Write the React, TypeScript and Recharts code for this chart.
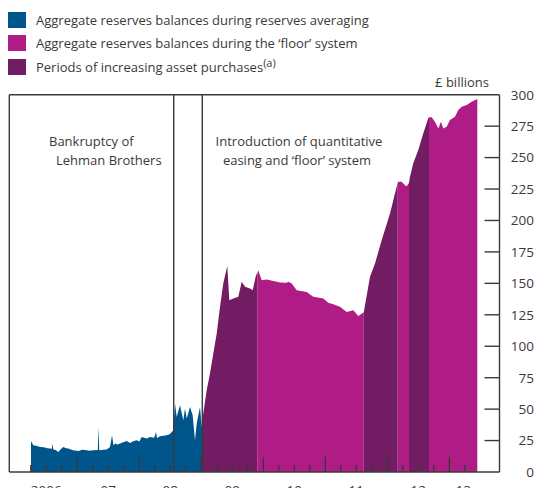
import React from 'react';
import { ComposedChart, Area, XAxis, YAxis, ReferenceLine } from 'recharts';

// ---------- data (decimal year, £ billions) ----------
const reservesAveraging: [number, number][] = [
  [2006.253, 24.7], [2006.29, 21.2], [2006.34, 20.8], [2006.398, 19.9], [2006.46, 19.6],
  [2006.52, 18.9], [2006.56, 18.6], [2006.59, 18.4], [2006.597, 22.6], [2006.613, 17.8],
  [2006.65, 17.4], [2006.694, 15.9], [2006.74, 18.5], [2006.774, 19.9], [2006.82, 18.9],
  [2006.855, 18.6], [2006.93, 17.2], [2007.016, 16.7], [2007.08, 17.6], [2007.152, 17.3],
  [2007.2, 16.9], [2007.258, 17.3], [2007.331, 17.5], [2007.339, 35.8], [2007.355, 17.3],
  [2007.42, 17.6], [2007.474, 17.8], [2007.527, 19.9], [2007.56, 29.2], [2007.584, 21.0],
  [2007.608, 22.6], [2007.65, 21.8], [2007.689, 22.6], [2007.74, 23.6], [2007.797, 24.7],
  [2007.85, 23.1], [2007.9, 24.5], [2007.958, 25.2], [2008.0, 24.3], [2008.039, 27.9],
  [2008.119, 26.6], [2008.173, 27.9], [2008.24, 27.3], [2008.269, 31.8], [2008.285, 27.0],
  [2008.334, 28.4], [2008.39, 28.9], [2008.442, 29.2], [2008.49, 30.0], [2008.523, 31.8],
  [2008.548, 33.0], [2008.576, 54.4], [2008.603, 43.8], [2008.656, 53.1], [2008.71, 41.1],
  [2008.737, 50.4], [2008.765, 42.5], [2008.818, 51.7], [2008.861, 45.1], [2008.898, 25.2],
  [2008.926, 38.5], [2008.979, 51.7], [2009.006, 35.8], [2009.016, 40.0],
];

const floorSystem: [number, number][] = [
  [2009.903, 158.0], [2009.919, 160.5], [2009.974, 152.5], [2010.055, 153.1], [2010.216, 151.2],
  [2010.269, 150.7], [2010.377, 150.4], [2010.403, 151.2], [2010.458, 149.9], [2010.539, 144.6],
  [2010.7, 143.2], [2010.806, 139.3], [2010.968, 138.0], [2011.048, 134.5], [2011.129, 133.4],
  [2011.237, 131.3], [2011.345, 127.3], [2011.452, 128.7], [2011.532, 124.1], [2011.621, 127.0],
  [2012.168, 230.0], [2012.177, 230.8], [2012.232, 230.8], [2012.285, 228.1], [2012.313, 227.3],
  [2012.35, 230.0],
  [2012.673, 282.0], [2012.716, 282.0], [2012.769, 278.5], [2012.823, 273.2], [2012.866, 278.5],
  [2012.903, 273.2], [2012.958, 274.5], [2013.011, 279.9], [2013.092, 282.5], [2013.145, 287.8],
  [2013.2, 290.4], [2013.281, 291.8], [2013.361, 294.4], [2013.442, 296.3], [2013.452, 296.5],
];

const assetPurchases: [number, number][] = [
  [2009.016, 40.0], [2009.032, 46.5], [2009.087, 65.0], [2009.14, 78.3], [2009.194, 94.2],
  [2009.248, 110.0], [2009.302, 131.3], [2009.355, 150.0], [2009.419, 163.7], [2009.452, 136.6],
  [2009.516, 138.0], [2009.597, 139.3], [2009.652, 151.2], [2009.705, 147.2], [2009.785, 145.9],
  [2009.829, 144.6], [2009.882, 156.5], [2009.903, 158.0],
  [2011.621, 127.0], [2011.721, 155.2], [2011.802, 165.8], [2011.91, 184.4], [2012.044, 205.6],
  [2012.124, 221.5], [2012.168, 230.0],
  [2012.35, 230.0], [2012.366, 234.7], [2012.419, 245.4], [2012.5, 256.0], [2012.581, 269.3],
  [2012.661, 281.2], [2012.673, 282.0],
];

const lehmanDate = 2008.555;
const floorStartDate = 2009.016;

const xDomain: [number, number] = [2005.903, 2013.81];
const quarterTicks = [
  2006.25, 2006.5, 2006.75, 2007, 2007.25, 2007.5, 2007.75, 2008, 2008.25, 2008.5, 2008.75,
  2009, 2009.25, 2009.5, 2009.75, 2010, 2010.25, 2010.5, 2010.75, 2011, 2011.25, 2011.5,
  2011.75, 2012, 2012.25, 2012.5, 2012.75, 2013, 2013.25,
];
const yearStarts = [2007, 2008, 2009, 2010, 2011, 2012, 2013];
const yearLabelPositions = [2006.5, 2007.5, 2008.5, 2009.5, 2010.5, 2011.5, 2012.5, 2013.23];
const yearLabels = ['2006', '07', '08', '09', '10', '11', '12', '13'];
const yTicks = [0, 25, 50, 75, 100, 125, 150, 175, 200, 225, 250, 275, 300];
const leftTicks = [25, 50, 75, 100, 125, 150, 175, 200, 225, 250, 275];

const legendItems = [
  { label: 'Aggregate reserves balances during reserves averaging', color: '#00558a' },
  { label: 'Aggregate reserves balances during the \u2018floor\u2019 system', color: '#b01c86' },
  { label: 'Periods of increasing asset purchases', color: '#721c63', sup: '(a)' },
];

// ---------- build table ----------
const tSet = new Set<number>();
[reservesAveraging, floorSystem, assetPurchases].forEach((s) => s.forEach(([t]) => tSet.add(t)));
const mAvg = new Map(reservesAveraging);
const mFloor = new Map(floorSystem);
const mQe = new Map(assetPurchases);
const table = Array.from(tSet)
  .sort((a, b) => a - b)
  .map((t) => ({
    t,
    avg: mAvg.has(t) ? mAvg.get(t)! : null,
    floor: mFloor.has(t) ? mFloor.get(t)! : null,
    qe: mQe.has(t) ? mQe.get(t)! : null,
  }));
const xTicks = Array.from(new Set([...quarterTicks, ...yearLabelPositions])).sort((a, b) => a - b);

const FONT = "'Open Sans', sans-serif";
const INK = '#3a3a3a';
const FRAME = '#3a3a3a';

const XTick = (props: any) => {
  const { x, y, payload } = props;
  const v = payload.value;
  const isQ = quarterTicks.includes(v);
  const isYear = yearStarts.includes(v);
  const li = yearLabelPositions.indexOf(v);
  return (
    <g>
      {isQ && <line x1={x} x2={x} y1={y} y2={y - (isYear ? 15 : 7)} stroke={FRAME} strokeWidth={1.4} />}
      {li >= 0 && (
        <text x={x} y={y + 23} textAnchor="middle" fill={INK} fontSize={13.5} fontFamily={FONT}>
          {yearLabels[li]}
        </text>
      )}
    </g>
  );
};

const LeftTick = (props: any) => {
  const { x, y } = props;
  return <line x1={x} x2={x + 15} y1={y} y2={y} stroke={FRAME} strokeWidth={1.4} />;
};

const RightTick = (props: any) => {
  const { x, y, payload } = props;
  const v = payload.value;
  return (
    <g>
      {v > 0 && v < 300 && <line x1={x - 15} x2={x} y1={y} y2={y} stroke={FRAME} strokeWidth={1.4} />}
      <text x={x + 34.5} y={y} dy="0.36em" textAnchor="end" fill={INK} fontSize={13.5} fontFamily={FONT}>
        {v}
      </text>
    </g>
  );
};

export default function App() {
  return (
    <div
      style={{
        position: 'fixed', left: 0, top: 0, width: 535, height: 488, overflow: 'hidden',
        background: '#fff', fontFamily: FONT, color: INK,
      }}
    >
      <ComposedChart width={535} height={500} data={table} margin={{ top: 94.7, right: 0, bottom: 0, left: 8.3 }}>
        <Area yAxisId="right" type="linear" dataKey="avg" stroke="none" fill="#00558a" fillOpacity={1} isAnimationActive={false} connectNulls={false} />
        <Area yAxisId="right" type="linear" dataKey="floor" stroke="none" fill="#b01c86" fillOpacity={1} isAnimationActive={false} connectNulls={false} />
        <Area yAxisId="right" type="linear" dataKey="qe" stroke="none" fill="#721c63" fillOpacity={1} isAnimationActive={false} connectNulls={false} />
        <ReferenceLine yAxisId="right" y={300} stroke={FRAME} strokeWidth={1.4} />
        <ReferenceLine yAxisId="right" x={lehmanDate} stroke={FRAME} strokeWidth={1.4} />
        <ReferenceLine yAxisId="right" x={floorStartDate} stroke={FRAME} strokeWidth={1.4} />
        <XAxis
          dataKey="t" type="number" domain={xDomain} allowDataOverflow ticks={xTicks} interval={0}
          tickSize={0} tickMargin={0} tickLine={false} tick={(p: any) => <XTick {...p} />}
          axisLine={{ stroke: FRAME, strokeWidth: 1.4 }} height={28}
        />
        <YAxis
          yAxisId="left" orientation="left" width={1} domain={[0, 300]} ticks={leftTicks} interval={0}
          tickSize={0} tickMargin={0} tickLine={false} tick={(p: any) => <LeftTick {...p} />}
          axisLine={{ stroke: FRAME, strokeWidth: 1.4 }}
        />
        <YAxis
          yAxisId="right" orientation="right" width={35.5} domain={[0, 300]} ticks={yTicks} interval={0}
          tickSize={0} tickMargin={0} tickLine={false} tick={(p: any) => <RightTick {...p} />}
          axisLine={{ stroke: FRAME, strokeWidth: 1.4 }}
        />
      </ComposedChart>

      {legendItems.map((it, i) => (
        <div key={i} style={{ position: 'absolute', left: 8, top: 11.5 + i * 23.8, height: 16, display: 'flex', alignItems: 'center' }}>
          <div style={{ width: 18, height: 16, background: it.color }} />
          <span style={{ marginLeft: 10, fontSize: 13, whiteSpace: 'nowrap', lineHeight: '16px' }}>
            {it.label}
            {it.sup && <sup style={{ fontSize: 11, verticalAlign: 'top', position: 'relative', top: -4 }}>{it.sup}</sup>}
          </span>
        </div>
      ))}
      <div style={{ position: 'absolute', right: 46, top: 73, fontSize: 13, whiteSpace: 'nowrap' }}>£ billions</div>

      <div style={{ position: 'absolute', left: 49, top: 132, fontSize: 13, whiteSpace: 'nowrap' }}>Bankruptcy of</div>
      <div style={{ position: 'absolute', left: 56, top: 150.5, fontSize: 13, whiteSpace: 'nowrap' }}>Lehman Brothers</div>
      <div style={{ position: 'absolute', left: 199, width: 200, top: 132, fontSize: 13, textAlign: 'center', whiteSpace: 'nowrap' }}>
        Introduction of quantitative
      </div>
      <div style={{ position: 'absolute', left: 197, width: 200, top: 150.5, fontSize: 13, textAlign: 'center', whiteSpace: 'nowrap' }}>
        easing and {'\u2018'}floor{'\u2019'} system
      </div>
    </div>
  );
}
